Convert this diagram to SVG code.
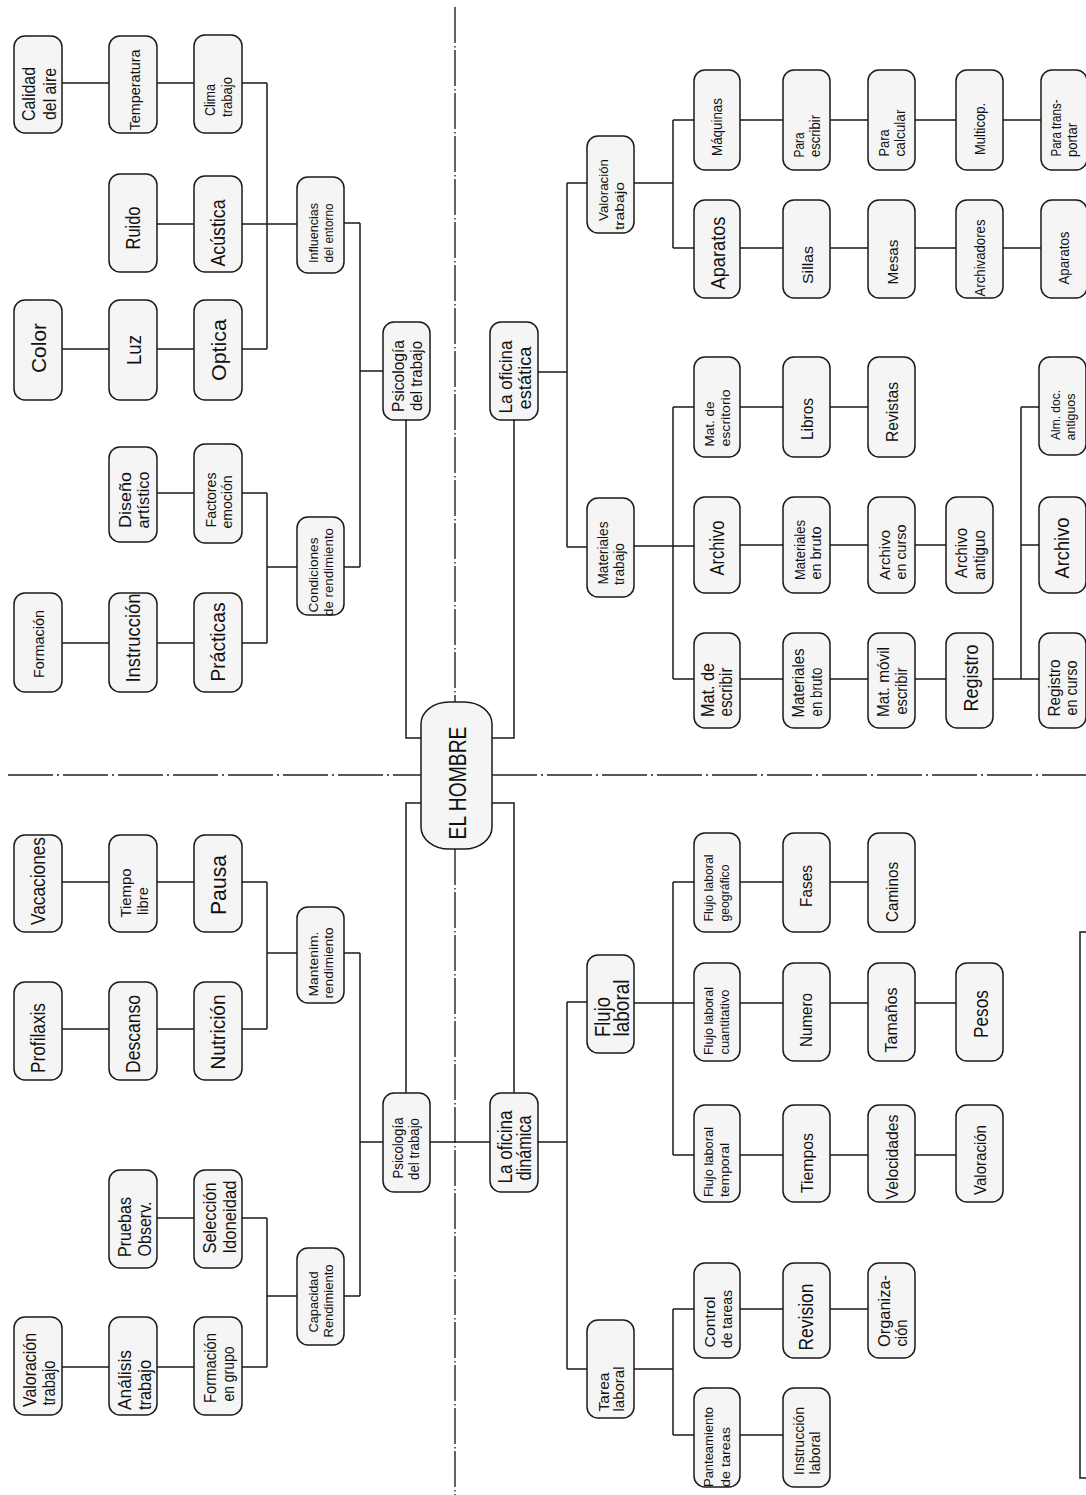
<svg xmlns="http://www.w3.org/2000/svg" width="1086" height="1495" viewBox="0 0 1086 1495">
<style>
.n rect{fill:#f5f5f5;stroke:#1a1a1a;stroke-width:1.5}
.t{font-family:"Liberation Sans",Arial,sans-serif;fill:#111;text-anchor:middle;dominant-baseline:central}
.c{stroke:#1a1a1a;stroke-width:1.5;fill:none}
.dv{stroke:#222;stroke-width:1.4;fill:none;stroke-dasharray:36 3 1.5 2.5}
.dh{stroke:#222;stroke-width:1.4;fill:none;stroke-dasharray:45 4 2 4}
.box{fill:none;stroke:#1a1a1a;stroke-width:1.5}
</style>
<rect width="1086" height="1495" fill="#fff"/>
<g id="axes">
<path class="dv" d="M455,7V702M455,849V1495"/>
<path class="dh" d="M8,775H421M492,775H1086"/>
</g>
<g id="connectors">
<path class="c" d="M62,83H109M157,83H194M242,83H267M157,224H194M242,224H297M62,349H109M157,349H194M242,349H267M267,83V349M344,223H360M157,493H194M242,493H267M62,643H109M157,643H194M242,643H267M267,493V643M267,567H297M344,567H360M360,223V567M360,371H383M406,420V738H421M514,420V738H492M538,372H567M567,183V547M567,183H587M634,183H673M673,120V248M673,120H694M673,248H694M740,120H783M830,120H868M915,120H956M1003,120H1041M740,248H783M830,248H868M915,248H956M1003,248H1041M567,547H587M634,546H694M673,407V679M673,407H694M673,679H694M740,407H783M830,407H868M740,545H783M830,545H868M915,545H946M740,679H783M830,679H868M915,679H946M993,679H1039M1021,407V679M1021,407H1039M1021,545H1039"/>
<path class="c" d="M406,1093V803H421M514,1093V803H492M62,882H109M157,882H194M242,882H267M62,1029H109M157,1029H194M242,1029H267M267,882V1029M267,953H297M344,953H360M360,953V1296M360,1142H383M430,1142H490M157,1218H194M242,1218H267M62,1367H109M157,1367H194M242,1367H267M267,1218V1367M267,1296H297M344,1296H360"/>
<path class="c" d="M538,1142H567M567,1002V1369M567,1002H587M634,1003H694M673,882V1155M673,882H694M673,1155H694M740,882H783M830,882H868M740,1003H783M830,1003H868M915,1003H956M740,1155H783M830,1155H868M915,1155H956M567,1369H587M634,1369H673M673,1309V1435M673,1309H694M673,1435H694M740,1309H783M830,1309H868M740,1435H783"/>
</g>
<rect id="empty-box" class="box" x="1080" y="932" width="30" height="546"/>

<g id="el-hombre" class="n"><rect x="421" y="702" width="71" height="147" rx="28" ry="22"/><text class="t" font-size="24" textLength="113" lengthAdjust="spacingAndGlyphs" transform="translate(457,783) rotate(-90)">EL HOMBRE</text></g>

<g id="n-calidad" class="n"><rect x="14" y="36" width="48" height="97" rx="11"/><text class="t" font-size="18" textLength="54" lengthAdjust="spacingAndGlyphs" transform="translate(29,94) rotate(-90)">Calidad</text><text class="t" font-size="18" textLength="52" lengthAdjust="spacingAndGlyphs" transform="translate(50,94) rotate(-90)">del aire</text></g>
<g id="n-temperatura" class="n"><rect x="109" y="36" width="48" height="97" rx="11"/><text class="t" font-size="15" textLength="81" lengthAdjust="spacingAndGlyphs" transform="translate(134,90) rotate(-90)">Temperatura</text></g>
<g id="n-clima" class="n"><rect x="194" y="35" width="48" height="98" rx="11"/><text class="t" font-size="14" textLength="32" lengthAdjust="spacingAndGlyphs" transform="translate(210,100) rotate(-90)">Clima</text><text class="t" font-size="14" textLength="40" lengthAdjust="spacingAndGlyphs" transform="translate(227,97) rotate(-90)">trabajo</text></g>
<g id="n-ruido" class="n"><rect x="109" y="174" width="48" height="98" rx="11"/><text class="t" font-size="20" textLength="43" lengthAdjust="spacingAndGlyphs" transform="translate(133,228) rotate(-90)">Ruido</text></g>
<g id="n-acustica" class="n"><rect x="194" y="176" width="48" height="96" rx="11"/><text class="t" font-size="20" textLength="67" lengthAdjust="spacingAndGlyphs" transform="translate(218,233) rotate(-90)">Acústica</text></g>
<g id="n-influencias" class="n"><rect x="297" y="177" width="47" height="96" rx="11"/><text class="t" font-size="13" textLength="60" lengthAdjust="spacingAndGlyphs" transform="translate(313,233) rotate(-90)">Influencias</text><text class="t" font-size="13" textLength="59" lengthAdjust="spacingAndGlyphs" transform="translate(328,233) rotate(-90)">del entorno</text></g>
<g id="n-color" class="n"><rect x="14" y="300" width="48" height="100" rx="11"/><text class="t" font-size="21" textLength="50" lengthAdjust="spacingAndGlyphs" transform="translate(38,348) rotate(-90)">Color</text></g>
<g id="n-luz" class="n"><rect x="109" y="300" width="48" height="100" rx="11"/><text class="t" font-size="21" textLength="30" lengthAdjust="spacingAndGlyphs" transform="translate(133,350) rotate(-90)">Luz</text></g>
<g id="n-optica" class="n"><rect x="194" y="300" width="48" height="100" rx="11"/><text class="t" font-size="21" textLength="62" lengthAdjust="spacingAndGlyphs" transform="translate(218,350) rotate(-90)">Optica</text></g>
<g id="n-diseno" class="n"><rect x="109" y="447" width="48" height="95" rx="11"/><text class="t" font-size="17" textLength="56" lengthAdjust="spacingAndGlyphs" transform="translate(125,500) rotate(-90)">Diseño</text><text class="t" font-size="17" textLength="57" lengthAdjust="spacingAndGlyphs" transform="translate(143,500) rotate(-90)">artístico</text></g>
<g id="n-factores" class="n"><rect x="194" y="444" width="48" height="99" rx="11"/><text class="t" font-size="14" textLength="55" lengthAdjust="spacingAndGlyphs" transform="translate(211,500) rotate(-90)">Factores</text><text class="t" font-size="14" textLength="53" lengthAdjust="spacingAndGlyphs" transform="translate(227,502) rotate(-90)">emoción</text></g>
<g id="n-condiciones" class="n"><rect x="297" y="517" width="47" height="98" rx="11"/><text class="t" font-size="13" textLength="75" lengthAdjust="spacingAndGlyphs" transform="translate(313,575) rotate(-90)">Condiciones</text><text class="t" font-size="13" textLength="88" lengthAdjust="spacingAndGlyphs" transform="translate(328,572) rotate(-90)">de rendimiento</text></g>
<g id="n-formacion" class="n"><rect x="14" y="593" width="48" height="99" rx="11"/><text class="t" font-size="15" textLength="68" lengthAdjust="spacingAndGlyphs" transform="translate(38,644) rotate(-90)">Formación</text></g>
<g id="n-instruccion" class="n"><rect x="109" y="593" width="48" height="99" rx="11"/><text class="t" font-size="20" textLength="89" lengthAdjust="spacingAndGlyphs" transform="translate(133,638) rotate(-90)">Instrucción</text></g>
<g id="n-practicas" class="n"><rect x="194" y="593" width="48" height="99" rx="11"/><text class="t" font-size="20" textLength="79" lengthAdjust="spacingAndGlyphs" transform="translate(218,642) rotate(-90)">Prácticas</text></g>
<g id="n-psico-top" class="n"><rect x="383" y="322" width="47" height="98" rx="11"/><text class="t" font-size="17" textLength="72" lengthAdjust="spacingAndGlyphs" transform="translate(398,376) rotate(-90)">Psicología</text><text class="t" font-size="17" textLength="70" lengthAdjust="spacingAndGlyphs" transform="translate(416,376) rotate(-90)">del trabajo</text></g>
<g id="n-oficina-estatica" class="n"><rect x="490" y="322" width="48" height="98" rx="11"/><text class="t" font-size="19" textLength="73" lengthAdjust="spacingAndGlyphs" transform="translate(505,377) rotate(-90)">La oficina</text><text class="t" font-size="19" textLength="63" lengthAdjust="spacingAndGlyphs" transform="translate(524,378) rotate(-90)">estática</text></g>

<g id="n-valoracion-tr" class="n"><rect x="587" y="136" width="47" height="97" rx="11"/><text class="t" font-size="13" textLength="62" lengthAdjust="spacingAndGlyphs" transform="translate(603,190) rotate(-90)">Valoración</text><text class="t" font-size="13" textLength="48" lengthAdjust="spacingAndGlyphs" transform="translate(619,206) rotate(-90)">trabajo</text></g>
<g id="n-maquinas" class="n"><rect x="694" y="70" width="46" height="100" rx="11"/><text class="t" font-size="14" textLength="58" lengthAdjust="spacingAndGlyphs" transform="translate(717,127) rotate(-90)">Máquinas</text></g>
<g id="n-para-escribir" class="n"><rect x="783" y="70" width="47" height="100" rx="11"/><text class="t" font-size="14" textLength="25" lengthAdjust="spacingAndGlyphs" transform="translate(799,145) rotate(-90)">Para</text><text class="t" font-size="14" textLength="42" lengthAdjust="spacingAndGlyphs" transform="translate(815,136) rotate(-90)">escribir</text></g>
<g id="n-para-calcular" class="n"><rect x="868" y="70" width="47" height="100" rx="11"/><text class="t" font-size="14" textLength="27" lengthAdjust="spacingAndGlyphs" transform="translate(884,143) rotate(-90)">Para</text><text class="t" font-size="14" textLength="47" lengthAdjust="spacingAndGlyphs" transform="translate(900,133) rotate(-90)">calcular</text></g>
<g id="n-multicop" class="n"><rect x="956" y="70" width="47" height="100" rx="11"/><text class="t" font-size="14" textLength="52" lengthAdjust="spacingAndGlyphs" transform="translate(980,129) rotate(-90)">Multicop.</text></g>
<g id="n-para-transportar" class="n"><rect x="1041" y="70" width="46" height="100" rx="11"/><text class="t" font-size="14" textLength="57" lengthAdjust="spacingAndGlyphs" transform="translate(1056,128) rotate(-90)">Para trans-</text><text class="t" font-size="14" textLength="34" lengthAdjust="spacingAndGlyphs" transform="translate(1072,140) rotate(-90)">portar</text></g>
<g id="n-aparatos-big" class="n"><rect x="694" y="200" width="46" height="98" rx="11"/><text class="t" font-size="21" textLength="73" lengthAdjust="spacingAndGlyphs" transform="translate(717,253) rotate(-90)">Aparatos</text></g>
<g id="n-sillas" class="n"><rect x="783" y="200" width="47" height="98" rx="11"/><text class="t" font-size="15" textLength="38" lengthAdjust="spacingAndGlyphs" transform="translate(807,265) rotate(-90)">Sillas</text></g>
<g id="n-mesas" class="n"><rect x="868" y="200" width="47" height="98" rx="11"/><text class="t" font-size="15" textLength="45" lengthAdjust="spacingAndGlyphs" transform="translate(892,262) rotate(-90)">Mesas</text></g>
<g id="n-archivadores" class="n"><rect x="956" y="200" width="47" height="98" rx="11"/><text class="t" font-size="14" textLength="77" lengthAdjust="spacingAndGlyphs" transform="translate(980,258) rotate(-90)">Archivadores</text></g>
<g id="n-aparatos-small" class="n"><rect x="1041" y="200" width="46" height="98" rx="11"/><text class="t" font-size="14" textLength="53" lengthAdjust="spacingAndGlyphs" transform="translate(1064,258) rotate(-90)">Aparatos</text></g>
<g id="n-materiales-tr" class="n"><rect x="587" y="498" width="47" height="99" rx="11"/><text class="t" font-size="14" textLength="63" lengthAdjust="spacingAndGlyphs" transform="translate(603,553) rotate(-90)">Materiales</text><text class="t" font-size="14" textLength="42" lengthAdjust="spacingAndGlyphs" transform="translate(619,564) rotate(-90)">trabajo</text></g>
<g id="n-mat-escritorio" class="n"><rect x="694" y="357" width="46" height="100" rx="11"/><text class="t" font-size="13" textLength="45" lengthAdjust="spacingAndGlyphs" transform="translate(709,424) rotate(-90)">Mat. de</text><text class="t" font-size="13" textLength="57" lengthAdjust="spacingAndGlyphs" transform="translate(725,418) rotate(-90)">escritorio</text></g>
<g id="n-libros" class="n"><rect x="783" y="357" width="47" height="100" rx="11"/><text class="t" font-size="17" textLength="42" lengthAdjust="spacingAndGlyphs" transform="translate(807,419) rotate(-90)">Libros</text></g>
<g id="n-revistas" class="n"><rect x="868" y="357" width="47" height="100" rx="11"/><text class="t" font-size="17" textLength="60" lengthAdjust="spacingAndGlyphs" transform="translate(892,412) rotate(-90)">Revistas</text></g>
<g id="n-alm-doc" class="n"><rect x="1039" y="357" width="47" height="98" rx="11"/><text class="t" font-size="13" textLength="50" lengthAdjust="spacingAndGlyphs" transform="translate(1055,415) rotate(-90)">Alm. doc.</text><text class="t" font-size="13" textLength="47" lengthAdjust="spacingAndGlyphs" transform="translate(1070,417) rotate(-90)">antiguos</text></g>
<g id="n-archivo1" class="n"><rect x="694" y="497" width="46" height="96" rx="11"/><text class="t" font-size="20" textLength="55" lengthAdjust="spacingAndGlyphs" transform="translate(717,548) rotate(-90)">Archivo</text></g>
<g id="n-mat-bruto1" class="n"><rect x="783" y="497" width="47" height="96" rx="11"/><text class="t" font-size="15" textLength="60" lengthAdjust="spacingAndGlyphs" transform="translate(799,550) rotate(-90)">Materiales</text><text class="t" font-size="15" textLength="53" lengthAdjust="spacingAndGlyphs" transform="translate(815,553) rotate(-90)">en bruto</text></g>
<g id="n-archivo-curso" class="n"><rect x="868" y="497" width="47" height="96" rx="11"/><text class="t" font-size="15" textLength="50" lengthAdjust="spacingAndGlyphs" transform="translate(884,555) rotate(-90)">Archivo</text><text class="t" font-size="15" textLength="55" lengthAdjust="spacingAndGlyphs" transform="translate(900,552) rotate(-90)">en curso</text></g>
<g id="n-archivo-antiguo" class="n"><rect x="946" y="497" width="47" height="96" rx="11"/><text class="t" font-size="16" textLength="50" lengthAdjust="spacingAndGlyphs" transform="translate(961,553) rotate(-90)">Archivo</text><text class="t" font-size="16" textLength="50" lengthAdjust="spacingAndGlyphs" transform="translate(979,555) rotate(-90)">antiguo</text></g>
<g id="n-archivo2" class="n"><rect x="1039" y="497" width="47" height="96" rx="11"/><text class="t" font-size="20" textLength="61" lengthAdjust="spacingAndGlyphs" transform="translate(1062,548) rotate(-90)">Archivo</text></g>
<g id="n-mat-escribir" class="n"><rect x="694" y="633" width="46" height="95" rx="11"/><text class="t" font-size="18" textLength="54" lengthAdjust="spacingAndGlyphs" transform="translate(708,690) rotate(-90)">Mat. de</text><text class="t" font-size="18" textLength="49" lengthAdjust="spacingAndGlyphs" transform="translate(726,692) rotate(-90)">escribir</text></g>
<g id="n-mat-bruto2" class="n"><rect x="783" y="633" width="47" height="95" rx="11"/><text class="t" font-size="17" textLength="69" lengthAdjust="spacingAndGlyphs" transform="translate(798,683) rotate(-90)">Materiales</text><text class="t" font-size="17" textLength="49" lengthAdjust="spacingAndGlyphs" transform="translate(816,692) rotate(-90)">en bruto</text></g>
<g id="n-mat-movil" class="n"><rect x="868" y="633" width="47" height="95" rx="11"/><text class="t" font-size="17" textLength="70" lengthAdjust="spacingAndGlyphs" transform="translate(883,682) rotate(-90)">Mat. móvil</text><text class="t" font-size="17" textLength="47" lengthAdjust="spacingAndGlyphs" transform="translate(901,691) rotate(-90)">escribir</text></g>
<g id="n-registro" class="n"><rect x="946" y="633" width="47" height="95" rx="11"/><text class="t" font-size="21" textLength="67" lengthAdjust="spacingAndGlyphs" transform="translate(970,678) rotate(-90)">Registro</text></g>
<g id="n-registro-curso" class="n"><rect x="1039" y="633" width="47" height="95" rx="11"/><text class="t" font-size="16" textLength="57" lengthAdjust="spacingAndGlyphs" transform="translate(1054,688) rotate(-90)">Registro</text><text class="t" font-size="16" textLength="55" lengthAdjust="spacingAndGlyphs" transform="translate(1071,688) rotate(-90)">en curso</text></g>

<g id="n-vacaciones" class="n"><rect x="14" y="835" width="48" height="97" rx="11"/><text class="t" font-size="20" textLength="88" lengthAdjust="spacingAndGlyphs" transform="translate(38,881) rotate(-90)">Vacaciones</text></g>
<g id="n-tiempo-libre" class="n"><rect x="109" y="835" width="48" height="97" rx="11"/><text class="t" font-size="14" textLength="49" lengthAdjust="spacingAndGlyphs" transform="translate(126,893) rotate(-90)">Tiempo</text><text class="t" font-size="14" textLength="28" lengthAdjust="spacingAndGlyphs" transform="translate(143,901) rotate(-90)">libre</text></g>
<g id="n-pausa" class="n"><rect x="194" y="835" width="48" height="97" rx="11"/><text class="t" font-size="22" textLength="60" lengthAdjust="spacingAndGlyphs" transform="translate(218,885) rotate(-90)">Pausa</text></g>
<g id="n-mantenim" class="n"><rect x="297" y="907" width="47" height="96" rx="11"/><text class="t" font-size="13" textLength="65" lengthAdjust="spacingAndGlyphs" transform="translate(313,964) rotate(-90)">Mantenim.</text><text class="t" font-size="13" textLength="71" lengthAdjust="spacingAndGlyphs" transform="translate(328,963) rotate(-90)">rendimiento</text></g>
<g id="n-profilaxis" class="n"><rect x="14" y="982" width="48" height="98" rx="11"/><text class="t" font-size="20" textLength="70" lengthAdjust="spacingAndGlyphs" transform="translate(38,1038) rotate(-90)">Profilaxis</text></g>
<g id="n-descanso" class="n"><rect x="109" y="982" width="48" height="98" rx="11"/><text class="t" font-size="20" textLength="78" lengthAdjust="spacingAndGlyphs" transform="translate(133,1034) rotate(-90)">Descanso</text></g>
<g id="n-nutricion" class="n"><rect x="194" y="982" width="48" height="98" rx="11"/><text class="t" font-size="20" textLength="75" lengthAdjust="spacingAndGlyphs" transform="translate(218,1032) rotate(-90)">Nutrición</text></g>
<g id="n-capacidad" class="n"><rect x="297" y="1248" width="47" height="97" rx="11"/><text class="t" font-size="13" textLength="61" lengthAdjust="spacingAndGlyphs" transform="translate(313,1302) rotate(-90)">Capacidad</text><text class="t" font-size="13" textLength="73" lengthAdjust="spacingAndGlyphs" transform="translate(328,1301) rotate(-90)">Rendimiento</text></g>
<g id="n-pruebas" class="n"><rect x="109" y="1170" width="48" height="98" rx="11"/><text class="t" font-size="19" textLength="60" lengthAdjust="spacingAndGlyphs" transform="translate(124,1227) rotate(-90)">Pruebas</text><text class="t" font-size="19" textLength="55" lengthAdjust="spacingAndGlyphs" transform="translate(144,1229) rotate(-90)">Observ.</text></g>
<g id="n-seleccion" class="n"><rect x="194" y="1170" width="48" height="98" rx="11"/><text class="t" font-size="19" textLength="71" lengthAdjust="spacingAndGlyphs" transform="translate(209,1218) rotate(-90)">Selección</text><text class="t" font-size="19" textLength="73" lengthAdjust="spacingAndGlyphs" transform="translate(229,1217) rotate(-90)">Idoneidad</text></g>
<g id="n-valoracion-bl" class="n"><rect x="14" y="1317" width="48" height="98" rx="11"/><text class="t" font-size="19" textLength="74" lengthAdjust="spacingAndGlyphs" transform="translate(29,1370) rotate(-90)">Valoración</text><text class="t" font-size="19" textLength="45" lengthAdjust="spacingAndGlyphs" transform="translate(48,1383) rotate(-90)">trabajo</text></g>
<g id="n-analisis" class="n"><rect x="109" y="1317" width="48" height="98" rx="11"/><text class="t" font-size="19" textLength="60" lengthAdjust="spacingAndGlyphs" transform="translate(124,1380) rotate(-90)">Análisis</text><text class="t" font-size="19" textLength="50" lengthAdjust="spacingAndGlyphs" transform="translate(144,1385) rotate(-90)">trabajo</text></g>
<g id="n-formacion-grupo" class="n"><rect x="194" y="1317" width="48" height="98" rx="11"/><text class="t" font-size="16" textLength="70" lengthAdjust="spacingAndGlyphs" transform="translate(210,1368) rotate(-90)">Formación</text><text class="t" font-size="16" textLength="55" lengthAdjust="spacingAndGlyphs" transform="translate(228,1374) rotate(-90)">en grupo</text></g>
<g id="n-psico-bottom" class="n"><rect x="383" y="1093" width="47" height="99" rx="11"/><text class="t" font-size="14" textLength="61" lengthAdjust="spacingAndGlyphs" transform="translate(398,1148) rotate(-90)">Psicología</text><text class="t" font-size="14" textLength="62" lengthAdjust="spacingAndGlyphs" transform="translate(414,1149) rotate(-90)">del trabajo</text></g>
<g id="n-oficina-dinamica" class="n"><rect x="490" y="1093" width="48" height="99" rx="11"/><text class="t" font-size="20" textLength="73" lengthAdjust="spacingAndGlyphs" transform="translate(505,1147) rotate(-90)">La oficina</text><text class="t" font-size="20" textLength="65" lengthAdjust="spacingAndGlyphs" transform="translate(524,1148) rotate(-90)">dinámica</text></g>

<g id="n-flujo-laboral" class="n"><rect x="587" y="955" width="47" height="98" rx="11"/><text class="t" font-size="22" textLength="40" lengthAdjust="spacingAndGlyphs" transform="translate(602,1017) rotate(-90)">Flujo</text><text class="t" font-size="22" textLength="57" lengthAdjust="spacingAndGlyphs" transform="translate(621,1008) rotate(-90)">laboral</text></g>
<g id="n-flujo-geo" class="n"><rect x="694" y="833" width="46" height="99" rx="11"/><text class="t" font-size="13" textLength="67" lengthAdjust="spacingAndGlyphs" transform="translate(708,888) rotate(-90)">Flujo laboral</text><text class="t" font-size="13" textLength="57" lengthAdjust="spacingAndGlyphs" transform="translate(724,893) rotate(-90)">geográfico</text></g>
<g id="n-fases" class="n"><rect x="783" y="833" width="47" height="99" rx="11"/><text class="t" font-size="17" textLength="42" lengthAdjust="spacingAndGlyphs" transform="translate(806,886) rotate(-90)">Fases</text></g>
<g id="n-caminos" class="n"><rect x="868" y="833" width="47" height="99" rx="11"/><text class="t" font-size="17" textLength="60" lengthAdjust="spacingAndGlyphs" transform="translate(892,892) rotate(-90)">Caminos</text></g>
<g id="n-flujo-cuant" class="n"><rect x="694" y="963" width="46" height="98" rx="11"/><text class="t" font-size="13" textLength="68" lengthAdjust="spacingAndGlyphs" transform="translate(708,1021) rotate(-90)">Flujo laboral</text><text class="t" font-size="13" textLength="65" lengthAdjust="spacingAndGlyphs" transform="translate(724,1022) rotate(-90)">cuantitativo</text></g>
<g id="n-numero" class="n"><rect x="783" y="963" width="47" height="98" rx="11"/><text class="t" font-size="17" textLength="54" lengthAdjust="spacingAndGlyphs" transform="translate(806,1020) rotate(-90)">Numero</text></g>
<g id="n-tamanos" class="n"><rect x="868" y="963" width="47" height="98" rx="11"/><text class="t" font-size="17" textLength="65" lengthAdjust="spacingAndGlyphs" transform="translate(891,1020) rotate(-90)">Tamaños</text></g>
<g id="n-pesos" class="n"><rect x="956" y="963" width="47" height="98" rx="11"/><text class="t" font-size="21" textLength="48" lengthAdjust="spacingAndGlyphs" transform="translate(980,1014) rotate(-90)">Pesos</text></g>
<g id="n-flujo-temp" class="n"><rect x="694" y="1105" width="46" height="97" rx="11"/><text class="t" font-size="13" textLength="70" lengthAdjust="spacingAndGlyphs" transform="translate(708,1162) rotate(-90)">Flujo laboral</text><text class="t" font-size="13" textLength="54" lengthAdjust="spacingAndGlyphs" transform="translate(724,1170) rotate(-90)">temporal</text></g>
<g id="n-tiempos" class="n"><rect x="783" y="1105" width="47" height="97" rx="11"/><text class="t" font-size="17" textLength="60" lengthAdjust="spacingAndGlyphs" transform="translate(807,1163) rotate(-90)">Tiempos</text></g>
<g id="n-velocidades" class="n"><rect x="868" y="1105" width="47" height="97" rx="11"/><text class="t" font-size="17" textLength="85" lengthAdjust="spacingAndGlyphs" transform="translate(892,1157) rotate(-90)">Velocidades</text></g>
<g id="n-valoracion-br" class="n"><rect x="956" y="1105" width="47" height="97" rx="11"/><text class="t" font-size="16" textLength="70" lengthAdjust="spacingAndGlyphs" transform="translate(980,1160) rotate(-90)">Valoración</text></g>
<g id="n-tarea" class="n"><rect x="587" y="1320" width="47" height="98" rx="11"/><text class="t" font-size="14" textLength="39" lengthAdjust="spacingAndGlyphs" transform="translate(604,1392) rotate(-90)">Tarea</text><text class="t" font-size="14" textLength="45" lengthAdjust="spacingAndGlyphs" transform="translate(619,1389) rotate(-90)">laboral</text></g>
<g id="n-control" class="n"><rect x="694" y="1263" width="46" height="95" rx="11"/><text class="t" font-size="15" textLength="51" lengthAdjust="spacingAndGlyphs" transform="translate(709,1322) rotate(-90)">Control</text><text class="t" font-size="15" textLength="58" lengthAdjust="spacingAndGlyphs" transform="translate(726,1319) rotate(-90)">de tareas</text></g>
<g id="n-revision" class="n"><rect x="783" y="1263" width="47" height="95" rx="11"/><text class="t" font-size="20" textLength="67" lengthAdjust="spacingAndGlyphs" transform="translate(806,1317) rotate(-90)">Revision</text></g>
<g id="n-organizacion" class="n"><rect x="868" y="1263" width="47" height="95" rx="11"/><text class="t" font-size="17" textLength="72" lengthAdjust="spacingAndGlyphs" transform="translate(884,1311) rotate(-90)">Organiza-</text><text class="t" font-size="17" textLength="27" lengthAdjust="spacingAndGlyphs" transform="translate(901,1333) rotate(-90)">ción</text></g>
<g id="n-panteamiento" class="n"><rect x="694" y="1388" width="46" height="99" rx="11"/><text class="t" font-size="13" textLength="80" lengthAdjust="spacingAndGlyphs" transform="translate(708,1447) rotate(-90)">Panteamiento</text><text class="t" font-size="13" textLength="60" lengthAdjust="spacingAndGlyphs" transform="translate(725,1457) rotate(-90)">de tareas</text></g>
<g id="n-instruccion-laboral" class="n"><rect x="783" y="1388" width="47" height="99" rx="11"/><text class="t" font-size="14" textLength="68" lengthAdjust="spacingAndGlyphs" transform="translate(799,1441) rotate(-90)">Instrucción</text><text class="t" font-size="14" textLength="43" lengthAdjust="spacingAndGlyphs" transform="translate(815,1453) rotate(-90)">laboral</text></g>
</svg>
